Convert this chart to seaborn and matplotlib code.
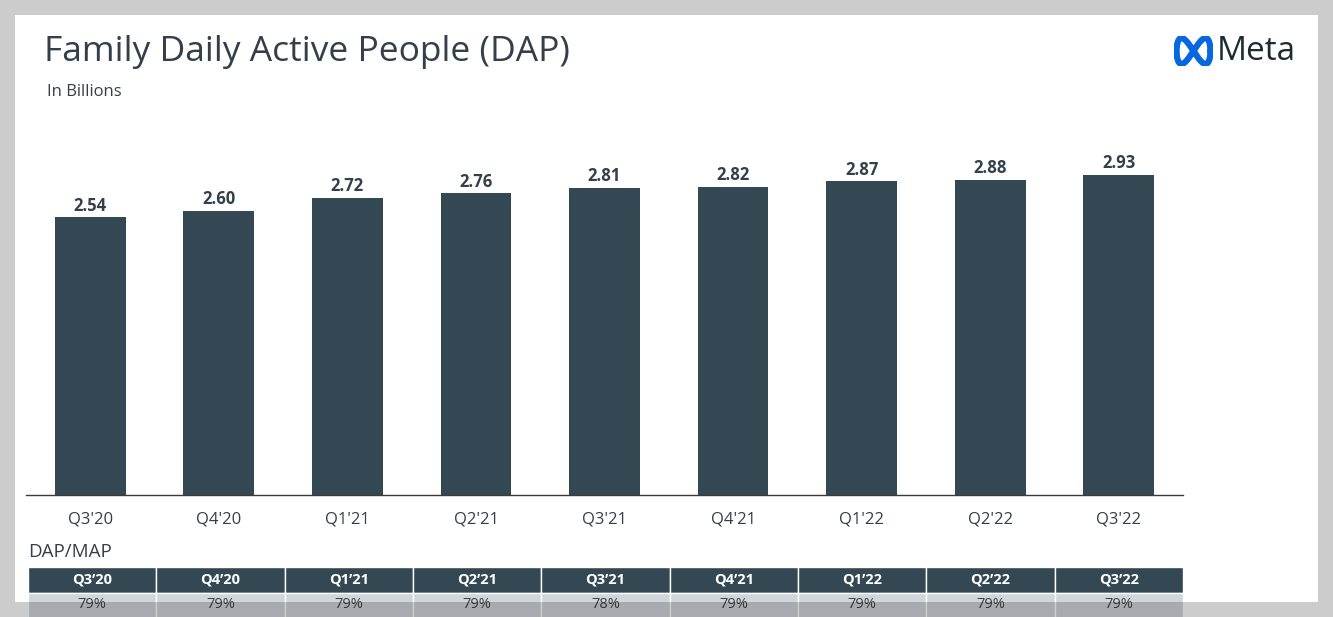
import numpy as np
import pandas as pd
import matplotlib
matplotlib.use("Agg")
import matplotlib.pyplot as plt
import seaborn as sns
from matplotlib.patches import Rectangle

# data
quarters = ["Q3'20", "Q4'20", "Q1'21", "Q2'21", "Q3'21", "Q4'21", "Q1'22", "Q2'22", "Q3'22"]
dap = [2.54, 2.60, 2.72, 2.76, 2.81, 2.82, 2.87, 2.88, 2.93]
table_quarters = ["Q3\u201920", "Q4\u201920", "Q1\u201921", "Q2\u201921", "Q3\u201921",
                  "Q4\u201921", "Q1\u201922", "Q2\u201922", "Q3\u201922"]
dap_map = ["79%", "79%", "79%", "79%", "78%", "79%", "79%", "79%", "79%"]

BAR = "#344854"
TEXT = "#333f4a"
ROW = "#d1d6db"

sns.set_theme(style="white")
plt.rcParams['font.family'] = ['Open Sans', 'DejaVu Sans']

W, H = 1333, 617
fig = plt.figure(figsize=(W / 100, H / 100), dpi=100, facecolor='white')


def fx(px):
    return px / W


def fy(py):
    return 1 - py / H


# --- bar chart ---
ax = fig.add_axes([fx(26), fy(495), fx(1183) - fx(26), fy(130) - fy(495)])
ax.set_facecolor('none')
df = pd.DataFrame({"quarter": quarters, "dap": dap})
sns.barplot(data=df, x="quarter", y="dap", color=BAR, width=0.55, saturation=1,
            linewidth=0, ax=ax)
ax.bar_label(ax.containers[0], fmt='%.2f', padding=2, fontsize=12,
             fontweight='bold', color=TEXT)
ax.set_xlim(-0.5, len(quarters) - 0.5)
ax.set_ylim(0, (495 - 130) / 109.3)
ax.set_yticks([])
ax.set_xlabel('')
ax.set_ylabel('')
for s in ['top', 'right', 'left']:
    ax.spines[s].set_visible(False)
ax.spines['bottom'].set_color('#3a3a3a')
ax.spines['bottom'].set_linewidth(1)
ax.tick_params(axis='x', length=0, pad=12, labelsize=12, labelcolor=TEXT)

# --- DAP/MAP table ---
tax = fig.add_axes([fx(28), fy(618), fx(1183) - fx(28), fy(567) - fy(618)])
tax.set_xlim(0, len(table_quarters))
tax.set_ylim(0, 2)
tax.axis('off')
for i, (q, v) in enumerate(zip(table_quarters, dap_map)):
    tax.add_patch(Rectangle((i, 1), 1, 1, facecolor=BAR, edgecolor='white', lw=1))
    tax.add_patch(Rectangle((i, 0), 1, 1, facecolor=ROW, edgecolor='white', lw=1))
    tax.text(i + 0.5, 1.5, q, ha='center', va='center', color='white',
             fontsize=10.5, fontweight='bold')
    tax.text(i + 0.5, 0.52, v, ha='center', va='center', color='#404040', fontsize=10.5)

fig.text(fx(28), fy(552), "DAP/MAP", ha='left', va='center', fontsize=13.5, color=TEXT)

# --- titles ---
fig.text(fx(44), fy(52), "Family Daily Active People (DAP)", ha='left', va='center',
         fontsize=25.5, color=TEXT)
fig.text(fx(47), fy(92), "In Billions", ha='left', va='center', fontsize=12, color=TEXT)

# --- Meta logo ---
lax = fig.add_axes([fx(1174), fy(66), fx(1213) - fx(1174), fy(36) - fy(66)])
t = np.linspace(0, 2 * np.pi, 200)
lax.plot(np.cos(t), 1.9 * np.sin(t) * np.cos(t), color='#0668E1', lw=4.5,
         solid_capstyle='round')
lax.set_xlim(-1.15, 1.15)
lax.set_ylim(-1.1, 1.1)
lax.axis('off')
fig.text(fx(1217), fy(51), "Meta", ha='left', va='center', fontsize=24, color='#1c2b33')

# --- grey frame around the slide ---
for (x0, y0, x1, y1) in [(0, 0, W, 15), (0, 602, W, H), (0, 15, 15, 602), (1318, 15, W, 602)]:
    fig.patches.append(Rectangle((fx(x0), fy(y1)), fx(x1) - fx(x0), fy(y0) - fy(y1),
                                 transform=fig.transFigure, facecolor='black',
                                 alpha=0.2, edgecolor='none', zorder=10))

fig.savefig("out.png", dpi=100, facecolor='white')
